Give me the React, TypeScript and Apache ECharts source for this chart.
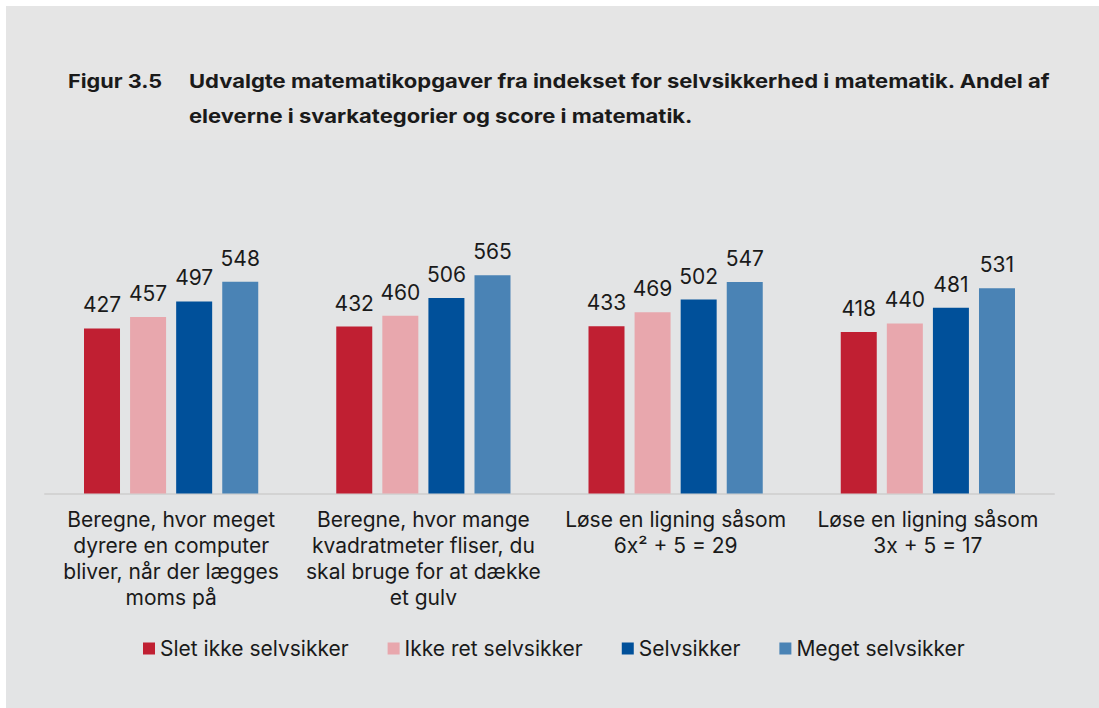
import React, { useEffect, useRef } from "react";
import * as echarts from "echarts";

const categories = [
  "Beregne, hvor meget\ndyrere en computer\nbliver, når der lægges\nmoms på",
  "Beregne, hvor mange\nkvadratmeter fliser, du\nskal bruge for at dække\net gulv",
  "Løse en ligning såsom\n6x² + 5 = 29",
  "Løse en ligning såsom\n3x + 5 = 17",
];
const seriesNames = [
  "Slet ikke selvsikker",
  "Ikke ret selvsikker",
  "Selvsikker",
  "Meget selvsikker",
];
const sletIkkeSelvsikker = [427, 432, 433, 418];
const ikkeRetSelvsikker = [457, 460, 469, 440];
const selvsikker = [497, 506, 502, 481];
const megetSelvsikker = [548, 565, 547, 531];
const seriesValues = [sletIkkeSelvsikker, ikkeRetSelvsikker, selvsikker, megetSelvsikker];
const colors = ["#c01f32", "#e8a7ad", "#00509a", "#4a83b5"];

const titleLabel = "Figur 3.5";
const titleLine1 = "Udvalgte matematikopgaver fra indekset for selvsikkerhed i matematik. Andel af";
const titleLine2 = "eleverne i svarkategorier og score i matematik.";

const FONT = "Inter, 'Noto Sans', sans-serif";
const TEXT = "#1a1a1a";

export default function App() {
  const ref = useRef<HTMLDivElement>(null);
  useEffect(() => {
    document.body.style.margin = "0";
    if (!ref.current) return;
    const chart = echarts.init(ref.current, null, { renderer: "svg" });
    const titleStyle = {
      font: `bold 19px ${FONT}`,
      fill: TEXT,
      verticalAlign: "middle",
    };
    chart.setOption({
      animation: false,
      backgroundColor: "#ffffff",
      textStyle: { fontFamily: FONT },
      graphic: [
        {
          type: "rect",
          z: -100,
          silent: true,
          shape: { x: 6, y: 6, width: 1093, height: 134 },
          style: { fill: "#e5e5e5" },
        },
        {
          type: "rect",
          z: -100,
          silent: true,
          shape: { x: 6, y: 140, width: 1093, height: 568 },
          style: { fill: "#e3e4e5" },
        },
        {
          type: "text",
          x: 68,
          y: 81,
          scaleX: 1.14,
          style: { ...titleStyle, text: titleLabel },
        },
        {
          type: "text",
          x: 189,
          y: 81,
          scaleX: 1.158,
          style: { ...titleStyle, text: titleLine1 },
        },
        {
          type: "text",
          x: 189,
          y: 116.5,
          scaleX: 1.158,
          style: { ...titleStyle, text: titleLine2 },
        },
      ],
      grid: { left: 45, right: 45, top: 223, bottom: 214.5, containLabel: false },
      legend: {
        left: 143,
        top: 638,
        padding: 0,
        icon: "rect",
        itemWidth: 12,
        itemHeight: 12,
        itemGap: 39,
        textStyle: { fontSize: 21, color: TEXT, fontFamily: FONT },
        data: seriesNames,
      },
      xAxis: {
        type: "category",
        data: categories,
        axisLine: { lineStyle: { color: "#d3d3d3", width: 2 } },
        axisTick: { show: false },
        axisLabel: {
          interval: 0,
          fontSize: 21,
          lineHeight: 26,
          color: TEXT,
          margin: 13,
          fontFamily: FONT,
          align: "center",
        },
      },
      yAxis: {
        type: "value",
        min: 0,
        max: 700,
        show: false,
        splitLine: { show: false },
      },
      series: seriesNames.map((name, i) => ({
        name,
        type: "bar",
        data: seriesValues[i],
        barWidth: 36,
        barGap: "28%",
        itemStyle: { color: colors[i] },
        label: {
          show: true,
          position: "top",
          distance: 13,
          fontSize: 21,
          color: TEXT,
          fontFamily: FONT,
        },
      })),
    });
    return () => chart.dispose();
  }, []);
  return <div ref={ref} style={{ width: 1099, height: 708 }} />;
}
